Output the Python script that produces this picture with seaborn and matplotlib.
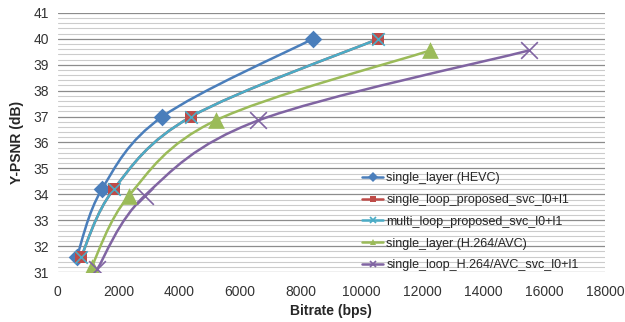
import numpy as np
import pandas as pd
import seaborn as sns
import matplotlib.pyplot as plt
from matplotlib.path import Path
from matplotlib.patches import PathPatch
from matplotlib.lines import Line2D

# Data
series = ['single_layer (HEVC)', 'single_loop_proposed_svc_l0+l1',
          'multi_loop_proposed_svc_l0+l1', 'single_layer (H.264/AVC)',
          'single_loop_H.264/AVC_svc_l0+l1']
bitrate_hevc = [640, 1460, 3450, 8400]
psnr_hevc = [31.6, 34.2, 37.0, 40.0]
bitrate_sl_prop = [780, 1850, 4400, 10550]
psnr_sl_prop = [31.6, 34.2, 37.0, 40.0]
bitrate_ml_prop = [780, 1850, 4400, 10550]
psnr_ml_prop = [31.6, 34.2, 37.0, 40.0]
bitrate_avc = [1120, 2350, 5200, 12250]
psnr_avc = [31.2, 33.95, 36.85, 39.55]
bitrate_avc_svc = [1300, 2870, 6600, 15500]
psnr_avc_svc = [31.1, 33.95, 36.85, 39.55]

bitrates = [bitrate_hevc, bitrate_sl_prop, bitrate_ml_prop, bitrate_avc, bitrate_avc_svc]
psnrs = [psnr_hevc, psnr_sl_prop, psnr_ml_prop, psnr_avc, psnr_avc_svc]

rows = []
for name, xs, ys in zip(series, bitrates, psnrs):
    for x, y in zip(xs, ys):
        rows.append([name, x, y])
df = pd.DataFrame(rows, columns=['Series', 'Bitrate', 'PSNR'])

colors = ['#4A7EBB', '#BE4B48', '#4BACC6', '#9BBB59', '#8064A2']
markers = ['D', 's', 'x', '^', 'x']
msizes = [9, 8, 9, 12, 12]


def smooth_path(xs, ys):
    # Catmull-Rom style bezier through the points (like Excel smoothed lines)
    pts = np.column_stack([xs, ys]).astype(float)
    verts = [pts[0]]
    codes = [Path.MOVETO]
    n = len(pts)
    for i in range(n - 1):
        p0 = pts[i - 1] if i > 0 else pts[i]
        p1 = pts[i]
        p2 = pts[i + 1]
        p3 = pts[i + 2] if i + 2 < n else pts[i + 1]
        c1 = p1 + (p2 - p0) / 6.0
        c2 = p2 - (p3 - p1) / 6.0
        verts += [c1, c2, p2]
        codes += [Path.CURVE4] * 3
    return Path(verts, codes)


sns.set_theme(style="white")
plt.rcParams['font.family'] = ['Liberation Sans', 'DejaVu Sans']

fig = plt.figure(figsize=(6.25, 3.22), dpi=100)
ax = fig.add_axes([0.092, 0.155, 0.876, 0.805])

for i, name in enumerate(series):
    ax.add_patch(PathPatch(smooth_path(bitrates[i], psnrs[i]), fill=False,
                           edgecolor=colors[i], lw=1.8, zorder=3))
    sub = df[df['Series'] == name]
    if markers[i] == 'x':
        sns.scatterplot(data=sub, x='Bitrate', y='PSNR', ax=ax, marker='x',
                        color=colors[i], s=msizes[i] ** 2, linewidth=1.2,
                        zorder=4, legend=False)
    else:
        sns.scatterplot(data=sub, x='Bitrate', y='PSNR', ax=ax, marker=markers[i],
                        color=colors[i], s=msizes[i] ** 2, linewidth=0,
                        zorder=4, legend=False)

ax.set_xlim(0, 18000)
ax.set_ylim(31, 41)
ax.set_xticks(np.arange(0, 18001, 2000))
ax.set_yticks(np.arange(31, 42, 1))
ax.set_yticks(np.arange(31, 41.01, 0.2), minor=True)
ax.grid(axis='y', which='major', color='#8c8c8c', lw=0.9, zorder=0)
ax.grid(axis='y', which='minor', color='#cccccc', lw=0.8, zorder=0)
ax.grid(axis='x', visible=False)
for s in ax.spines.values():
    s.set_visible(False)
ax.tick_params(axis='both', which='both', length=0, labelsize=10, colors='#333333')
ax.tick_params(axis='x', pad=9)
ax.tick_params(axis='y', pad=6)
ax.set_xlabel('Bitrate (bps)', fontsize=10, fontweight='bold', labelpad=4)
ax.set_ylabel('Y-PSNR (dB)', fontsize=10, fontweight='bold', labelpad=7)

handles = []
for i, name in enumerate(series):
    handles.append(Line2D([0], [0], color=colors[i], lw=1.8, marker=markers[i],
                          markersize=5, markeredgewidth=1.2 if markers[i] == 'x' else 0,
                          label=name))
ax.legend(handles=handles, loc='upper left', bbox_to_anchor=(0.556, 0.385),
          frameon=False, fontsize=9, handlelength=1.7,
          handletextpad=0.25, labelspacing=0.78, borderpad=0, borderaxespad=0)

fig.savefig('out.png', dpi=100)
